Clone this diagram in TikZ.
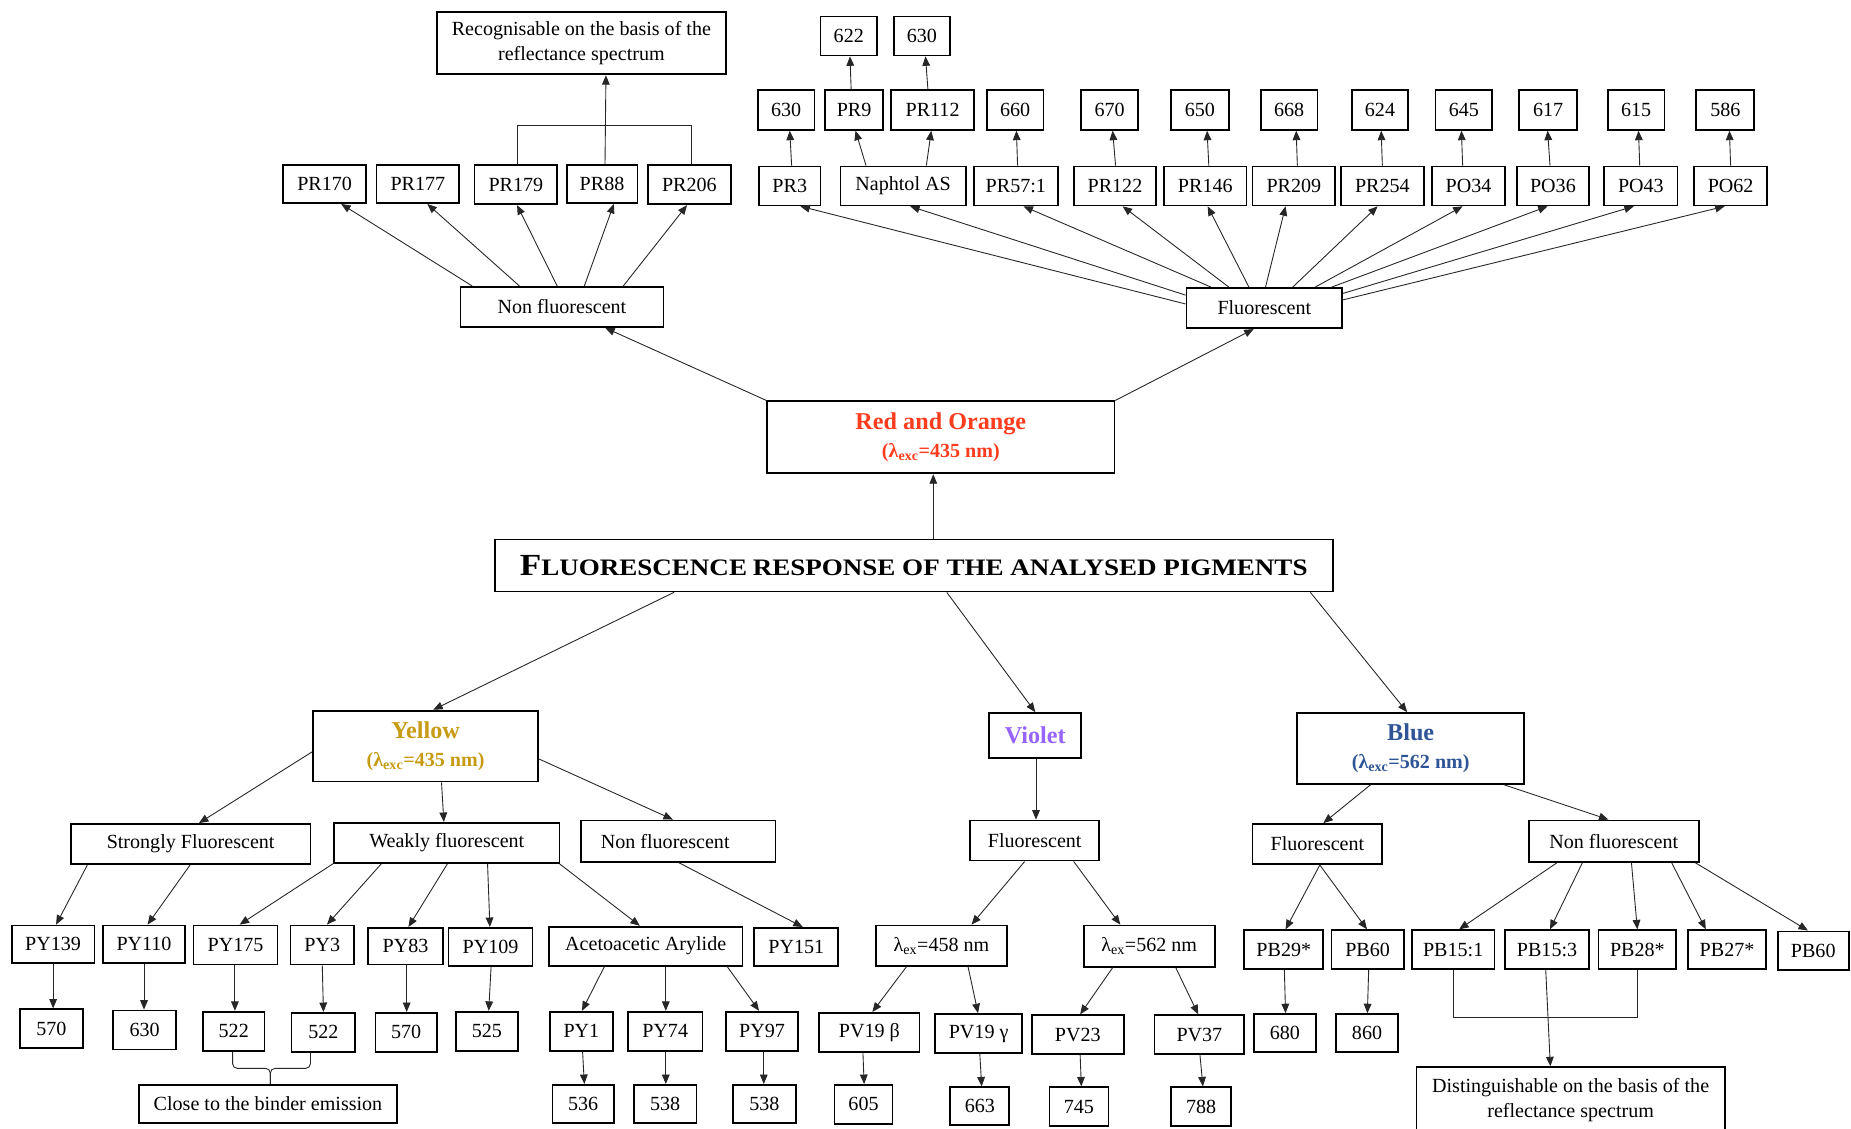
\documentclass[tikz,border=0pt]{standalone}
\usepackage{fontspec}
\usepackage{graphicx}
\setmainfont{Liberation Serif}
\usetikzlibrary{arrows.meta}

\definecolor{redor}{RGB}{255,60,30}
\definecolor{ylw}{RGB}{200,155,20}
\definecolor{vio}{RGB}{150,100,255}
\definecolor{blu}{RGB}{47,85,151}

\tikzset{
  box/.style={draw=black, line width=1.5pt, inner sep=0pt, align=center,
              font=\fontsize{17}{21}\selectfont},
  arr/.style={draw=black!85, line width=0.75pt, -{Triangle[length=8pt,width=6.5pt]}},
  ln/.style={draw=black!85, line width=0.75pt},
  head/.style={font=\bfseries\fontsize{17}{24}\selectfont},
}

% box: [options]{name}{left}{right}{top}{bottom}{text}
\newcommand\bx[7][]{\node[box,#1,minimum width={(#4-#3)*1pt},minimum height={(#6-#5)*1pt}] (#2) at ({(#3+#4)/2},{(#5+#6)/2}) {#7};}
% upward / downward connectors between two boxes at given x positions
\newcommand\up[4]{\draw[arr] (#1.north -| #3,0) -- (#2.south -| #4,0);}
\newcommand\dn[4]{\draw[arr] (#1.south -| #3,0) -- (#2.north -| #4,0);}
\newcommand\bigh[1]{{\fontsize{20.5}{24}\selectfont #1}}
\newcommand\lexc{λ\textsubscript{exc}}
\newcommand\lex{λ\textsubscript{ex}}
\newcommand\capA[1]{{\fontsize{26}{30}\selectfont #1}}
\newcommand\capB[1]{{\fontsize{20}{30}\selectfont #1}}

\begin{document}
\begin{tikzpicture}[x=1pt,y=-1pt]
\useasboundingbox (0,0) rectangle (1568,956);
\fill[white] (0,0) rectangle (1568,956);
\clip (0,0) rectangle (1568,956);

% ---------------- red and orange branch ----------------
\bx{rec}{370}{615}{10}{63}{Recognisable on the basis of the\\reflectance spectrum}
\bx{pr170}{240}{310}{140}{172}{PR170}
\bx{pr177}{319}{389}{140}{172}{PR177}
\bx{pr179}{402}{472}{140}{173}{PR179}
\bx{pr88}{480}{540}{140}{172}{PR88}
\bx{pr206}{549}{619}{140}{173}{PR206}
\bx{nfr}{390}{562}{243}{277}{Non fluorescent}
\bx{flr}{1005}{1137}{244}{278}{Fluorescent}

\bx{pr3}{643}{695}{141}{174}{PR3}
\bx{nap}{712}{818}{141}{174}{Naphtol AS}
\bx{pr57}{825}{896}{141}{174}{PR57:1}
\bx{pr122}{910}{979}{141}{174}{PR122}
\bx{pr146}{986}{1056}{141}{174}{PR146}
\bx{pr209}{1061}{1131}{141}{174}{PR209}
\bx{pr254}{1136}{1206}{141}{174}{PR254}
\bx{po34}{1213}{1275}{141}{174}{PO34}
\bx{po36}{1285}{1346}{141}{174}{PO36}
\bx{po43}{1359}{1421}{141}{174}{PO43}
\bx{po62}{1435}{1497}{141}{174}{PO62}

\bx{v630a}{642}{690}{76}{110}{630}
\bx{pr9}{699}{748}{76}{110}{PR9}
\bx{pr112}{755}{825}{76}{110}{PR112}
\bx{v660}{836}{884}{76}{110}{660}
\bx{v670}{916}{964}{76}{110}{670}
\bx{v650}{992}{1041}{76}{110}{650}
\bx{v668}{1068}{1116}{76}{110}{668}
\bx{v624}{1145}{1193}{76}{110}{624}
\bx{v645}{1216}{1264}{76}{110}{645}
\bx{v617}{1287}{1336}{76}{110}{617}
\bx{v615}{1362}{1410}{76}{110}{615}
\bx{v586}{1437}{1486}{76}{110}{586}
\bx{v622}{695}{743}{14}{47}{622}
\bx{v630b}{757}{805}{14}{47}{630}

\bx[head,text=redor]{red}{650}{944}{340}{401}{\bigh{Red and Orange}\\(\lexc=435 nm)}

\bx{title}{419}{1129}{457}{501}{\bfseries\scalebox{1.145}[1]{\capA{F}\capB{LUORESCENCE} \capB{RESPONSE OF THE ANALYSED PIGMENTS}}}

% connectors of the red and orange branch
\draw[arr] (title.north -| 790.6,0) -- (red.south -| 790.6,0);
\draw[arr] (red.north west) -- (nfr.south -| 512.7,0);
\draw[arr] (red.north east) -- (flr.south -| 1062,0);

\up{nfr}{pr170}{400}{289}
\up{nfr}{pr177}{440}{362}
\up{nfr}{pr179}{472}{438}
\up{nfr}{pr88}{495}{520}
\up{nfr}{pr206}{528}{582}
\up{pr88}{rec}{512.5}{513.3}
\coordinate (rbar) at (512,106);
\draw[ln] (pr179.north -| 438,0) |- (rbar) -| (pr206.north -| 586,0);

\draw[arr] (flr.west |- 0,257.5) -- (pr3.south -| 678,0);
\draw[arr] (flr.west |- 0,250) -- (nap.south -| 771,0);
\draw[arr] (flr.north -| 1026,0) -- (pr57.south -| 867,0);
\draw[arr] (flr.north -| 1041,0) -- (pr122.south -| 951,0);
\draw[arr] (flr.north -| 1058,0) -- (pr146.south -| 1023,0);
\draw[arr] (flr.north -| 1072,0) -- (pr209.south -| 1089,0);
\draw[arr] (flr.north -| 1095,0) -- (pr254.south -| 1167,0);
\draw[arr] (flr.north -| 1114,0) -- (po34.south -| 1239,0);
\draw[arr] (flr.north -| 1128,0) -- (po36.south -| 1311,0);
\draw[arr] (flr.east |- 0,248.5) -- (po43.south -| 1384,0);
\draw[arr] (flr.east |- 0,254) -- (po62.south -| 1461,0);

\up{pr3}{v630a}{670.6}{669}
\up{nap}{pr9}{733.6}{724.7}
\up{nap}{pr112}{784.7}{788.9}
\up{pr9}{v622}{721}{720}
\up{pr112}{v630b}{786}{784}
\up{pr57}{v660}{862}{861}
\up{pr122}{v670}{945}{942.5}
\up{pr146}{v650}{1024}{1022.5}
\up{pr209}{v668}{1099}{1098}
\up{pr254}{v624}{1171}{1170}
\up{po34}{v645}{1239}{1238}
\up{po36}{v617}{1313}{1311}
\up{po43}{v615}{1389}{1388}
\up{po62}{v586}{1466}{1465}

% ---------------- yellow branch ----------------
\bx[head,text=ylw]{yellow}{265}{456}{602}{662}{\bigh{Yellow}\\(\lexc=435 nm)}
\bx{strongly}{60}{263}{698}{732}{Strongly Fluorescent}
\bx{weakly}{283}{474}{697}{731}{Weakly fluorescent}
\bx{nfy}{492}{657}{695}{730}{Non fluorescent\hspace*{22pt}}

\bx{py139}{10}{80}{784}{816}{PY139}
\bx{py110}{87}{157}{784}{816}{PY110}
\bx{py175}{164}{235}{784}{817}{PY175}
\bx{py3}{246}{300}{784}{817}{PY3}
\bx{py83}{312}{375}{786}{817}{PY83}
\bx{py109}{380}{451}{786}{818}{PY109}
\bx{aceto}{465}{629}{785}{818}{Acetoacetic Arylide}
\bx{py151}{639}{710}{786}{818}{PY151}

\bx{v570a}{17}{70}{855}{888}{570}
\bx{v630y}{96}{149}{856}{889}{630}
\bx{v522a}{172}{224}{857}{890}{522}
\bx{v522b}{247}{301}{858}{891}{522}
\bx{v570b}{318}{370}{858}{891}{570}
\bx{v525}{386}{439}{857}{890}{525}
\bx{py1}{466}{519}{857}{890}{PY1}
\bx{py74}{532}{595}{857}{890}{PY74}
\bx{py97}{615}{676}{857}{890}{PY97}
\bx{v536}{468}{520}{919}{951}{536}
\bx{v538a}{537}{590}{919}{951}{538}
\bx{v538b}{621}{674}{919}{951}{538}
\bx{close}{118}{336}{919}{951}{Close to the binder emission}

\dn{title}{yellow}{571}{367}
\draw[arr] (yellow.west |- 0,637) -- (strongly.north -| 168.5,0);
\dn{yellow}{weakly}{374}{376}
\draw[arr] (yellow.east |- 0,643) -- (nfy.north -| 570,0);
\dn{strongly}{py139}{74}{47.5}
\dn{strongly}{py110}{161}{125}
\dn{weakly}{py175}{282}{203}
\dn{weakly}{py3}{323}{277}
\dn{weakly}{py83}{379}{346}
\dn{weakly}{py109}{413}{415}
\dn{weakly}{aceto}{474}{542}
\dn{nfy}{py151}{575}{680}
\dn{py139}{v570a}{45}{45}
\dn{py110}{v630y}{122}{122}
\dn{py175}{v522a}{199}{199}
\dn{py3}{v522b}{273}{274}
\dn{py83}{v570b}{344.5}{344.5}
\dn{py109}{v525}{416}{414}
\dn{aceto}{py1}{512}{493}
\dn{aceto}{py74}{564}{564}
\dn{aceto}{py97}{616}{643}
\dn{py1}{v536}{493.5}{495}
\dn{py74}{v538a}{564}{564}
\dn{py97}{v538b}{647}{647}

\coordinate (bcusp) at (229,905);
\draw[ln,rounded corners=4pt] (v522a.south -| 197,0) |- (bcusp) -- (close.north -| bcusp);
\draw[ln,rounded corners=4pt] (v522b.south -| 263,0) |- (bcusp) -- (close.north -| bcusp);

% ---------------- violet branch ----------------
\bx[head,text=vio]{violet}{838}{916}{604}{642}{\bigh{Violet}}
\bx{vfl}{822}{931}{695}{729}{Fluorescent}
\bx{l458}{742}{853}{784}{818}{\lex=458 nm}
\bx{l562}{918}{1029}{784}{819}{\lex=562 nm}
\bx{pv19b}{694}{779}{858}{891}{PV19 β}
\bx{pv19g}{792}{866}{859}{892}{PV19 γ}
\bx{pv23}{874}{952}{860}{893}{PV23}
\bx{pv37}{978}{1054}{860}{893}{PV37}
\bx{v605}{707}{756}{919}{952}{605}
\bx{v663}{805}{855}{921}{953}{663}
\bx{v745}{889}{939}{921}{954}{745}
\bx{v788}{992}{1043}{921}{954}{788}

\dn{title}{violet}{802}{877}
\dn{violet}{vfl}{877.6}{877.6}
\dn{vfl}{l458}{868}{823}
\dn{vfl}{l562}{909.5}{949}
\dn{l458}{pv19b}{768}{739}
\dn{l458}{pv19g}{820}{828.5}
\dn{l562}{pv23}{942.5}{915}
\dn{l562}{pv37}{996}{1015}
\dn{pv19b}{v605}{731}{732}
\dn{pv19g}{v663}{830}{831.6}
\dn{pv23}{v745}{915}{916}
\dn{pv37}{v788}{1016.5}{1019}

% ---------------- blue branch ----------------
\bx[head,text=blu]{blue}{1099}{1291}{604}{664}{\bigh{Blue}\\(\lexc=562 nm)}
\bx{bfl}{1061}{1171}{698}{732}{Fluorescent}
\bx{bnf}{1295}{1439}{695}{730}{Non fluorescent}
\bx{pb29}{1054}{1121}{788}{821}{PB29*}
\bx{pb60a}{1128}{1189}{788}{821}{PB60}
\bx{pb151}{1196}{1266}{788}{821}{PB15:1}
\bx{pb153}{1275}{1346}{788}{821}{PB15:3}
\bx{pb28}{1354}{1420}{788}{821}{PB28*}
\bx{pb27}{1430}{1496}{788}{821}{PB27*}
\bx{pb60b}{1506}{1566}{789}{822}{PB60}
\bx{v680}{1062}{1115}{859}{891}{680}
\bx{v860}{1132}{1184}{859}{891}{860}
\bx{dist}{1200}{1461}{904}{960}{Distinguishable on the basis of the\\reflectance spectrum}

\dn{title}{blue}{1110}{1192}
\dn{blue}{bfl}{1161}{1121}
\dn{blue}{bnf}{1274}{1362.5}
\dn{bfl}{pb29}{1118}{1089}
\dn{bfl}{pb60a}{1118}{1158}
\dn{bnf}{pb151}{1319}{1236}
\dn{bnf}{pb153}{1340.5}{1313}
\dn{bnf}{pb28}{1382}{1387}
\dn{bnf}{pb27}{1416}{1445}
\dn{bnf}{pb60b}{1436}{1531.5}
\dn{pb29}{v680}{1088}{1089}
\dn{pb60a}{v860}{1159.4}{1158.3}

\coordinate (bbar) at (1309,862);
\draw[ln] (pb151.south -| 1231,0) |- (bbar) -| (pb28.south -| 1387,0);
\draw[arr] (pb153.south -| 1309.4,0) -- (dist.north -| 1313.3,0);
\end{tikzpicture}
\end{document}
